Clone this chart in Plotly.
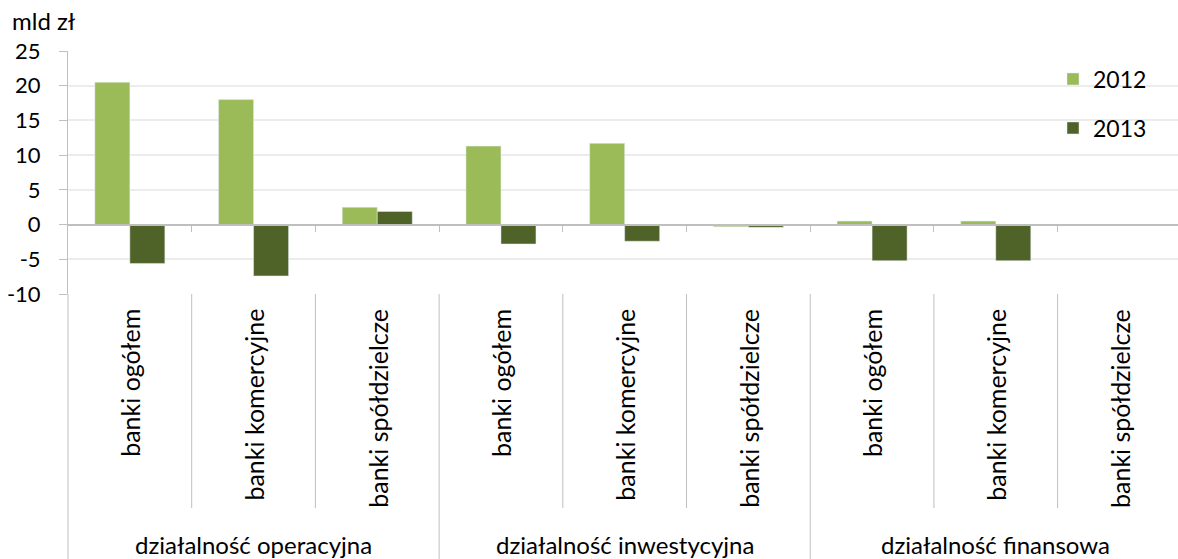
import plotly.graph_objects as go

# Cash-flow data (mld zł) by activity type and bank group
groups = ["działalność operacyjna", "działalność inwestycyjna", "działalność finansowa"]
banks = ["banki ogółem", "banki komercyjne", "banki spółdzielcze"]
years = ["2012", "2013"]
v2012 = [20.5, 18.0, 2.5, 11.3, 11.7, -0.3, 0.5, 0.5, None]
v2013 = [-5.6, -7.4, 1.9, -2.8, -2.4, -0.4, -5.2, -5.2, None]
y_ticks = [-10, -5, 0, 5, 10, 15, 20, 25]
unit_label = "mld zł"

colors = {"2012": "#9BBB59", "2013": "#4F6228"}
FONT = "Lato"
AXIS_GRAY = "#bfbfbf"

W, H = 1178, 559
L, T, B, R = 68, 51, 265, 0
plot_h = H - T - B
plot_w = W - L - R


def py(pix):
    """Convert a pixel row to paper y."""
    return (H - B - pix) / plot_h


def px(pix):
    """Convert a pixel column to paper x."""
    return (pix - L) / plot_w


x_pos = list(range(len(groups) * len(banks)))

fig = go.Figure()
fig.add_trace(go.Bar(x=x_pos, y=v2012, name=years[0], marker_color=colors["2012"],
                     legend="legend", showlegend=True))
fig.add_trace(go.Bar(x=x_pos, y=v2013, name=years[1], marker_color=colors["2013"],
                     legend="legend2", showlegend=True))

shapes = []
annotations = []

# Vertical separators in the category label area
n = len(x_pos)
for i in range(n - 1):
    b = i + 0.5
    major = (i + 1) % len(banks) == 0
    shapes.append(dict(type="line", xref="x", yref="paper", x0=b, x1=b,
                       y0=0, y1=py(559 if major else 508),
                       line=dict(color=AXIS_GRAY, width=1)))
shapes.append(dict(type="line", xref="paper", yref="paper", x0=0, x1=0,
                   y0=0, y1=py(559), line=dict(color=AXIS_GRAY, width=1)))

# Bank-group labels, rotated
for i in x_pos:
    annotations.append(dict(x=i, xref="x", y=py(307), yref="paper",
                            text=banks[i % len(banks)], textangle=-90,
                            showarrow=False, xanchor="center", yanchor="top",
                            font=dict(family=FONT, size=25, color="#000")))

# Activity labels
for g, name in enumerate(groups):
    annotations.append(dict(x=g * len(banks) + 1, xref="x", y=py(544), yref="paper",
                            text=name, showarrow=False, xanchor="center",
                            yanchor="middle",
                            font=dict(family=FONT, size=24, color="#000")))

# Unit label
annotations.append(dict(x=px(10), xref="paper", y=py(20), yref="paper",
                        text=unit_label, showarrow=False, xanchor="left",
                        yanchor="middle",
                        font=dict(family=FONT, size=24, color="#000")))

fig.update_layout(
    width=W, height=H,
    margin=dict(l=L, r=R, t=T, b=B, pad=0),
    paper_bgcolor="white", plot_bgcolor="white",
    barmode="group", bargap=0.434, bargroupgap=0,
    font=dict(family=FONT, size=22, color="#000"),
    showlegend=True,
    shapes=shapes, annotations=annotations,
    legend=dict(x=px(1053), y=py(79), xanchor="left", yanchor="middle",
                bgcolor="rgba(0,0,0,0)", font=dict(family=FONT, size=23)),
    legend2=dict(x=px(1053), y=py(128), xanchor="left", yanchor="middle",
                 bgcolor="rgba(0,0,0,0)", font=dict(family=FONT, size=23)),
    xaxis=dict(range=[-0.5, n - 0.527], showgrid=False, zeroline=False,
               showticklabels=False, showline=True, linecolor=AXIS_GRAY,
               linewidth=1.5, anchor="free",
               position=(0 - y_ticks[0]) / (y_ticks[-1] - y_ticks[0]),
               ticks="outside", tickvals=[i + 0.5 for i in x_pos[:-1]],
               ticklen=7, tickcolor=AXIS_GRAY, fixedrange=True),
    yaxis=dict(range=[y_ticks[0], y_ticks[-1]], tickvals=y_ticks,
               ticktext=[str(t) for t in y_ticks],
               showgrid=True, gridcolor="#ececec", gridwidth=1.5,
               zeroline=False, showline=True, linecolor=AXIS_GRAY, linewidth=1,
               ticks="outside", ticklen=8, tickcolor=AXIS_GRAY,
               ticklabelstandoff=14,
               tickfont=dict(family=FONT, size=22, color="#000")),
)

fig.write_html("out.html")
